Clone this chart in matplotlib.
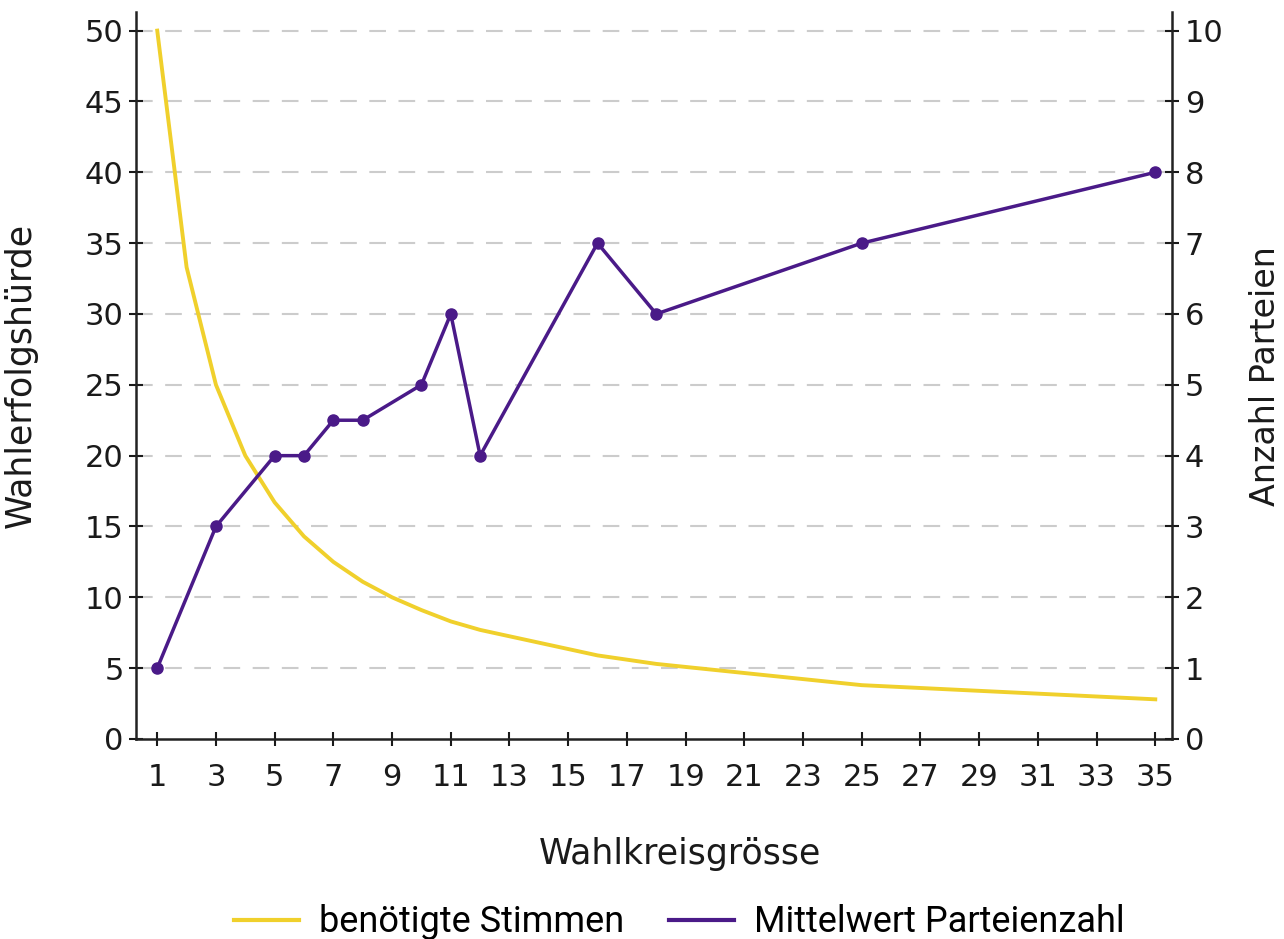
import matplotlib.pyplot as plt
from matplotlib.lines import Line2D

# Wahlkreisgrösse (district magnitude)
stimmen_x = [1, 2, 3, 4, 5, 6, 7, 8, 9, 10, 11, 12, 16, 18, 25, 35]
# benötigte Stimmen (%)
stimmen_y = [50, 33.3, 25, 20, 16.7, 14.3, 12.5, 11.1, 10, 9.1, 8.3, 7.7,
             5.9, 5.3, 3.8, 2.8]

parteien_x = [1, 3, 5, 6, 7, 8, 10, 11, 12, 16, 18, 25, 35]
parteien_y = [1, 3, 4, 4, 4.5, 4.5, 5, 6, 4, 7, 6, 7, 8]

x_ticks = list(range(1, 36, 2))
left_ticks = list(range(0, 51, 5))
right_ticks = list(range(0, 11))

YELLOW = '#f0d02c'
PURPLE = '#4a1a88'
TEXT = '#1a1a1a'


def main():
    plt.rcParams['font.family'] = ['DejaVu Sans']
    fig = plt.figure(figsize=(12.84, 9.39), dpi=100)
    ax = fig.add_axes([0.106, 0.213, 0.807, 0.774])
    ax2 = ax.twinx()

    ax.plot(stimmen_x, stimmen_y, color=YELLOW, lw=2.8, zorder=3)
    ax2.plot(parteien_x, parteien_y, color=PURPLE, lw=2.5,
             marker='o', markersize=8, zorder=3)

    ax.set_xlim(0.28, 35.58)
    ax.set_ylim(0, 51.3)
    ax2.set_ylim(0, 10.26)

    ax.set_xticks(x_ticks)
    ax.set_yticks(left_ticks)
    ax2.set_yticks(right_ticks)

    for y in left_ticks[1:]:
        ax.axhline(y, color='#cccccc', lw=1.5, ls=(0, (8, 6)), zorder=1)

    for a in (ax, ax2):
        for s in a.spines.values():
            s.set_visible(False)
        a.tick_params(labelsize=22, colors=TEXT, direction='inout',
                      length=10, width=1.5, pad=4)
    ax.spines['left'].set_visible(True)
    ax.spines['bottom'].set_visible(True)
    ax2.spines['right'].set_visible(True)
    for s in (ax.spines['left'], ax.spines['bottom'], ax2.spines['right']):
        s.set_linewidth(1.8)
        s.set_color('#222222')
    ax.tick_params(axis='x', pad=12)

    ax.set_xlabel('Wahlkreisgrösse', fontsize=25, color=TEXT, labelpad=36)
    ax.xaxis.set_label_coords(0.525, -0.135)
    ax.set_ylabel('Wahlerfolgshürde', fontsize=25, color=TEXT, labelpad=34)
    ax2.set_ylabel('Anzahl Parteien', fontsize=24, color=TEXT, labelpad=18)

    handles = [Line2D([], [], color=YELLOW, lw=3),
               Line2D([], [], color=PURPLE, lw=3)]
    fig.legend(handles, ['benötigte Stimmen', 'Mittelwert Parteienzahl'],
               loc='lower center', bbox_to_anchor=(0.529, -0.036), ncol=2,
               frameon=False, prop={'family': ['Roboto', 'DejaVu Sans'],
                                    'size': 26},
               handlelength=1.8, columnspacing=1.25, handletextpad=0.55)

    fig.savefig('out.png', dpi=100)


if __name__ == '__main__':
    main()
